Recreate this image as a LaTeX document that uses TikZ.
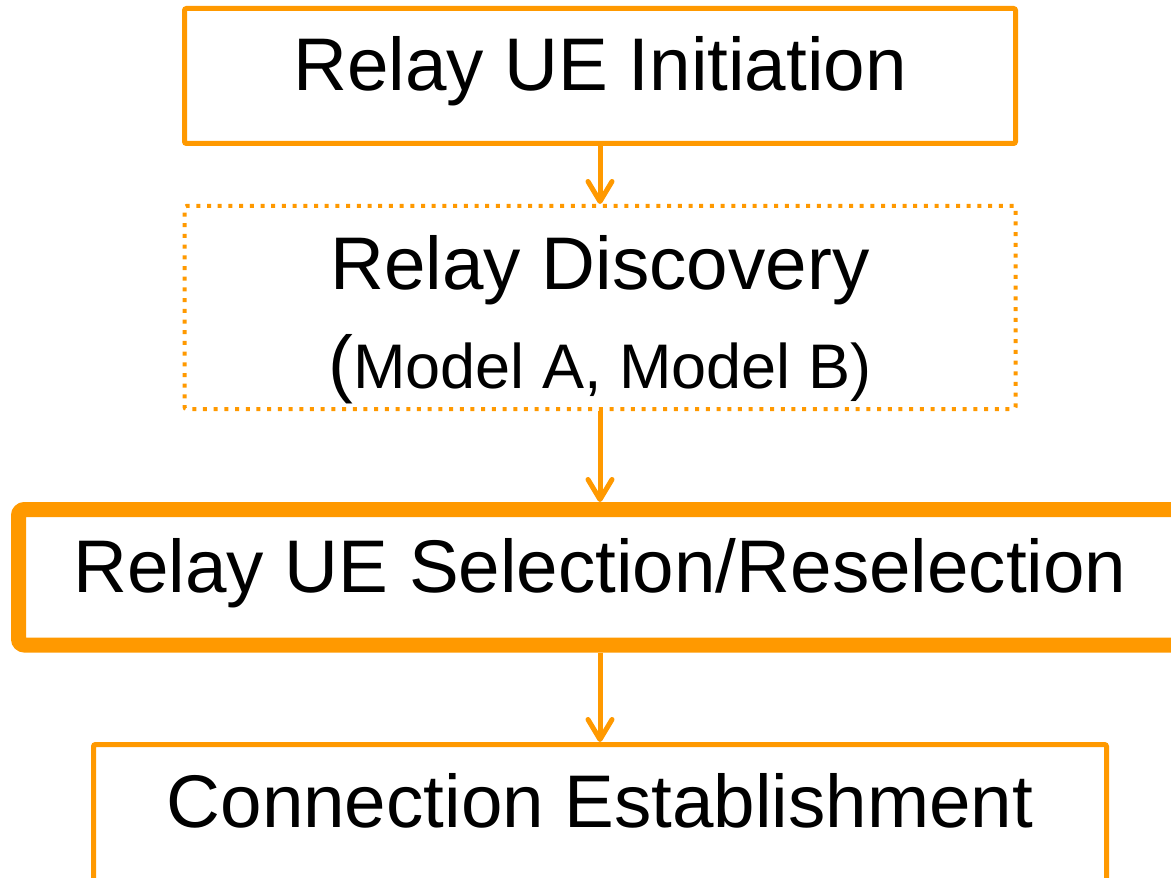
\documentclass[tikz,border=0pt]{standalone}
\usepackage{fontspec}
\setmainfont{Liberation Sans}
\usetikzlibrary{positioning, arrows.meta}
\definecolor{flowOrange}{RGB}{255,153,0}
\newcommand{\bigText}{\fontsize{37.3}{49.5}\selectfont}
\newcommand{\smallText}{\fontsize{31.5}{49.5}\selectfont}
\tikzstyle{flowchart} = [x = 0.5pt, y = -0.5pt]
\tikzstyle{stepBox} = [draw=flowOrange, line width=2.5pt, rounded corners=1pt, inner sep=0pt, font=\bigText]
\tikzstyle{dottedBox} = [stepBox, line width=2pt, dash pattern=on 2pt off 3.35pt]
\tikzstyle{heavyBox} = [stepBox, line width=7.5pt, rounded corners=3pt]
\tikzstyle{flowArrow} = [draw=flowOrange, line width=2.5pt, -{Straight Barb[length=10pt, width=12pt, round]}]

\begin{document}
\begin{tikzpicture}[flowchart]
  \useasboundingbox (0,0) rectangle (1171,877);
  \node [stepBox, minimum width=415.5pt, text height=41.1pt, text depth=26.4pt] (initiation) at (600,76) {Relay UE Initiation};
  \node [dottedBox, minimum width=415.5pt, text height=91pt, text depth=10.5pt, align=center] (discovery) at (600,307.5)
    {Relay Discovery\\{\bigText(}{\smallText Model A, Model B)}};
  \node [heavyBox, minimum width=581.5pt, text height=41.25pt, text depth=26.5pt] (selection) at (600,577.25) {Relay UE Selection/Reselection};
  \node [stepBox, minimum width=506.5pt, text height=41.25pt, text depth=40pt, anchor=north] (establishment) at (600,742)
    {Connection Establishment};

  \draw [flowArrow] (initiation.south) -- (discovery.north);
  \draw [flowArrow] (discovery.south) -- (selection.north);
  \draw [flowArrow] (selection.south) -- (establishment.north);
\end{tikzpicture}
\end{document}
